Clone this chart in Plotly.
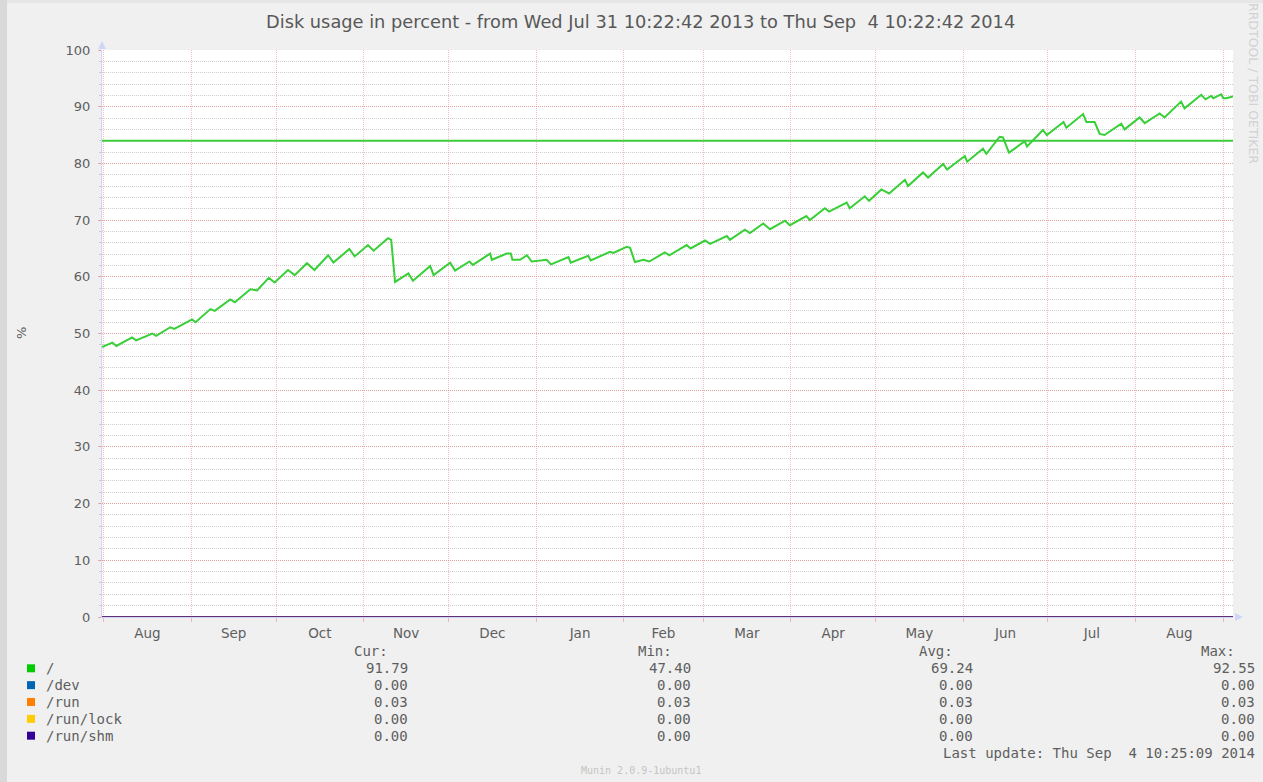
import plotly.graph_objects as go

# ---------------- data ----------------
root_dates = [
    "2013-07-31 10:22", "2013-08-04 02:00", "2013-08-05 12:00", "2013-08-11 02:00", "2013-08-12 12:00",
    "2013-08-18 05:00", "2013-08-19 14:00", "2013-08-24 14:00", "2013-08-26 00:00", "2013-09-01 07:00",
    "2013-09-02 12:00", "2013-09-07 19:00", "2013-09-09 07:00", "2013-09-14 19:00", "2013-09-16 10:00",
    "2013-09-21 22:00", "2013-09-24 07:00", "2013-09-28 10:00", "2013-09-30 12:00", "2013-10-05 05:00",
    "2013-10-07 14:00", "2013-10-11 22:00", "2013-10-14 14:00", "2013-10-19 10:00", "2013-10-21 07:00",
    "2013-10-26 22:00", "2013-10-28 19:00", "2013-11-02 12:00", "2013-11-04 12:00", "2013-11-09 14:00",
    "2013-11-10 17:00", "2013-11-11 07:00", "2013-11-12 02:00", "2013-11-16 19:00", "2013-11-18 10:00",
    "2013-11-24 12:00", "2013-11-25 17:00", "2013-12-01 14:00", "2013-12-03 07:00", "2013-12-08 10:00",
    "2013-12-09 14:00", "2013-12-15 17:00", "2013-12-16 07:00", "2013-12-21 14:00", "2013-12-23 00:00",
    "2013-12-23 14:00", "2013-12-26 07:00", "2013-12-28 17:00", "2013-12-30 10:00", "2014-01-04 17:00",
    "2014-01-06 05:00", "2014-01-12 10:00", "2014-01-13 05:00", "2014-01-19 10:00", "2014-01-20 07:00",
    "2014-01-27 02:00", "2014-01-28 07:00", "2014-02-02 00:00", "2014-02-03 05:00", "2014-02-04 22:00",
    "2014-02-07 22:00", "2014-02-10 00:00", "2014-02-15 12:00", "2014-02-17 02:00", "2014-02-23 05:00",
    "2014-02-24 14:00", "2014-03-01 17:00", "2014-03-03 12:00", "2014-03-09 10:00", "2014-03-10 12:00",
    "2014-03-15 19:00", "2014-03-17 14:00", "2014-03-22 07:00", "2014-03-24 17:00", "2014-03-30 00:00",
    "2014-03-31 17:00", "2014-04-06 14:00", "2014-04-07 19:00", "2014-04-13 02:00", "2014-04-14 14:00",
    "2014-04-20 19:00", "2014-04-21 22:00", "2014-04-27 05:00", "2014-04-28 17:00", "2014-05-03 02:00",
    "2014-05-05 19:00", "2014-05-11 10:00", "2014-05-12 12:00", "2014-05-17 19:00", "2014-05-19 14:00",
    "2014-05-24 22:00", "2014-05-26 07:00", "2014-06-01 14:00", "2014-06-02 10:00", "2014-06-08 00:00",
    "2014-06-09 05:00", "2014-06-13 22:00", "2014-06-15 02:00", "2014-06-17 05:00", "2014-06-22 19:00",
    "2014-06-23 14:00", "2014-06-29 05:00", "2014-06-30 14:00", "2014-07-06 12:00", "2014-07-07 12:00",
    "2014-07-13 10:00", "2014-07-14 14:00", "2014-07-17 12:00", "2014-07-19 07:00", "2014-07-21 00:00",
    "2014-07-26 22:00", "2014-07-28 02:00", "2014-08-02 10:00", "2014-08-04 05:00", "2014-08-09 12:00",
    "2014-08-11 05:00", "2014-08-17 02:00", "2014-08-18 07:00", "2014-08-24 05:00", "2014-08-25 17:00",
    "2014-08-27 17:00", "2014-08-28 12:00", "2014-08-31 07:00", "2014-09-01 00:00", "2014-09-02 00:00",
    "2014-09-04 10:22",
]
root_values = [
    47.6, 48.4, 47.8, 49.3, 48.8, 50.0, 49.6, 51.1, 50.8, 52.5,
    52.0, 54.3, 54.0, 56.0, 55.5, 57.8, 57.6, 59.8, 59.0, 61.2,
    60.3, 62.4, 61.2, 63.8, 62.5, 64.9, 63.6, 65.6, 64.6, 66.8,
    66.5, 62.7, 59.1, 60.6, 59.3, 61.9, 60.3, 62.5, 61.1, 62.7,
    62.1, 64.1, 63.0, 64.1, 64.1, 63.0, 63.0, 63.8, 62.7, 63.0,
    62.2, 63.5, 62.5, 63.7, 62.9, 64.4, 64.2, 65.3, 65.1, 62.6,
    63.0, 62.7, 64.3, 63.8, 65.6, 65.0, 66.4, 65.8, 67.2, 66.5,
    68.3, 67.7, 69.4, 68.4, 69.9, 69.1, 70.7, 70.0, 72.1, 71.5,
    73.1, 72.1, 74.2, 73.4, 75.4, 74.7, 77.1, 76.0, 78.4, 77.5,
    79.9, 78.9, 81.3, 80.3, 82.6, 81.7, 84.7, 84.6, 81.9, 83.9,
    83.0, 85.9, 85.0, 87.3, 86.3, 88.7, 87.3, 87.3, 85.2, 85.0,
    87.0, 86.0, 88.1, 87.1, 88.8, 88.1, 90.9, 89.7, 92.1, 91.3,
    91.9, 91.5, 92.2, 91.5, 91.5, 91.8,
]
range_start = "2013-07-31 10:22:42"
range_end = "2014-09-04 10:22:42"
flat_dates = [range_start, range_end]
dev_values = [0.0, 0.0]
run_values = [0.03, 0.03]
runlock_values = [0.0, 0.0]
runshm_values = [0.0, 0.0]
warning_level = 84

series_names = ["/", "/dev", "/run", "/run/lock", "/run/shm"]
series_colors = ["#00cc00", "#0066b3", "#ff8000", "#ffcc00", "#330099"]
cur_vals = [91.79, 0.00, 0.03, 0.00, 0.00]
min_vals = [47.40, 0.00, 0.03, 0.00, 0.00]
avg_vals = [69.24, 0.00, 0.03, 0.00, 0.00]
max_vals = [92.55, 0.00, 0.03, 0.00, 0.00]
col_headers = ["Cur:", "Min:", "Avg:", "Max:"]
y_ticks = [0, 10, 20, 30, 40, 50, 60, 70, 80, 90, 100]

title_text = "Disk usage in percent - from Wed Jul 31 10:22:42 2013 to Thu Sep\u00a0 4 10:22:42 2014"
last_update = "Last update: Thu Sep\u00a0 4 10:25:09 2014"
footer_text = "Munin 2.0.9-1ubuntu1"
watermark = "RRDTOOL / TOBI OETIKER"
y_label = "%"

# ---------------- layout helpers ----------------
W, H = 1263, 782
ML, MR, MT, MB = 102, 30, 50, 165
PW = W - ML - MR
PH = H - MT - MB


def px(x):
    return (x - ML) / PW


def py(y):
    return (H - MB - y) / PH


FONT = "DejaVu Sans, Verdana, sans-serif"
MONO = "DejaVu Sans Mono, monospace"
TXT = "#5e5e5e"
MAJOR_GRID = "rgba(240,110,110,0.45)"
MINOR_GRID = "#cdcdcd"
AXIS = "#CFD6F8"

fig = go.Figure()

fig.add_trace(go.Scatter(x=root_dates, y=root_values, mode="lines",
                         line=dict(color="#38cf38", width=2), hoverinfo="skip"))
other = [dev_values, run_values, runlock_values, runshm_values]
for vals, col in zip(other, series_colors[1:]):
    fig.add_trace(go.Scatter(x=flat_dates, y=vals, mode="lines",
                             line=dict(color=col, width=1.4), hoverinfo="skip"))
fig.add_trace(go.Scatter(x=flat_dates, y=[warning_level, warning_level], mode="lines",
                         line=dict(color="#3ccc3c", width=2), hoverinfo="skip"))

annotations = []
shapes = []

# outer frame strips
shapes.append(dict(type="rect", xref="paper", yref="paper", x0=px(0), x1=px(7), y0=py(H), y1=py(0),
                   fillcolor="#d9d9d9", line=dict(width=0), layer="below"))
shapes.append(dict(type="rect", xref="paper", yref="paper", x0=px(7), x1=px(W), y0=py(3), y1=py(0),
                   fillcolor="#e6e6e6", line=dict(width=0), layer="below"))

# axis arrows
shapes.append(dict(type="path", xref="paper", yref="paper",
                   path=f"M {px(98)},{py(49)} L {px(102)},{py(41)} L {px(106)},{py(49)} Z",
                   fillcolor=AXIS, line=dict(width=0)))
shapes.append(dict(type="path", xref="paper", yref="paper",
                   path=f"M {px(1235)},{py(613)} L {px(1243)},{py(617)} L {px(1235)},{py(621)} Z",
                   fillcolor=AXIS, line=dict(width=0)))

# title
annotations.append(dict(text=title_text, x=px(640.5), y=py(21), xref="paper", yref="paper",
                        xanchor="center", yanchor="middle", showarrow=False,
                        font=dict(family=FONT, size=17.8, color="#585858")))
# y label
annotations.append(dict(text=y_label, x=px(21), y=py(333), xref="paper", yref="paper",
                        xanchor="center", yanchor="middle", showarrow=False, textangle=-90,
                        font=dict(family=FONT, size=13, color=TXT)))
# watermark
annotations.append(dict(text=watermark, x=px(1254), y=py(83), xref="paper", yref="paper",
                        xanchor="center", yanchor="middle", showarrow=False, textangle=90,
                        font=dict(family=FONT, size=12.5, color="#d2d2d2")))

# legend table
row0 = 668.3
dy = 16.85
val_right = [410, 693, 975, 1256.5]
head_right = [390, 673.5, 955.5, 1237]
for j, h in enumerate(col_headers):
    annotations.append(dict(text=h, x=px(head_right[j]), y=py(650.7), xref="paper", yref="paper",
                            xanchor="right", yanchor="middle", showarrow=False,
                            font=dict(family=MONO, size=14, color=TXT)))
cols = [cur_vals, min_vals, avg_vals, max_vals]
for i, name in enumerate(series_names):
    yc = row0 + i * dy
    shapes.append(dict(type="rect", xref="paper", yref="paper", x0=px(27), x1=px(35),
                       y0=py(yc + 4), y1=py(yc - 4), fillcolor=series_colors[i], line=dict(width=0)))
    annotations.append(dict(text=name, x=px(44), y=py(yc), xref="paper", yref="paper",
                            xanchor="left", yanchor="middle", showarrow=False,
                            font=dict(family=MONO, size=14, color=TXT)))
    for j, c in enumerate(cols):
        annotations.append(dict(text=f"{c[i]:.2f}", x=px(val_right[j]), y=py(yc), xref="paper", yref="paper",
                                xanchor="right", yanchor="middle", showarrow=False,
                                font=dict(family=MONO, size=14, color=TXT)))
annotations.append(dict(text=last_update, x=px(1256.5), y=py(752.7), xref="paper", yref="paper",
                        xanchor="right", yanchor="middle", showarrow=False,
                        font=dict(family=MONO, size=14, color=TXT)))
annotations.append(dict(text=footer_text, x=px(641), y=py(770.5), xref="paper", yref="paper",
                        xanchor="center", yanchor="middle", showarrow=False,
                        font=dict(family=MONO, size=10, color="#c4c4c4")))

fig.update_layout(
    width=W, height=H,
    margin=dict(l=ML, r=MR, t=MT, b=MB, pad=0),
    paper_bgcolor="#f0f0f0",
    plot_bgcolor="#ffffff",
    showlegend=False,
    annotations=annotations,
    shapes=shapes,
    xaxis=dict(
        type="date", range=[range_start, range_end],
        tick0="2013-08-01", dtick="M1", ticklabelmode="period", tickformat="%b",
        showgrid=True, gridcolor=MAJOR_GRID, griddash="1px,1px", gridwidth=1,
        ticks="outside", ticklen=4, tickcolor=MAJOR_GRID,
        showline=True, linecolor=AXIS, linewidth=1, zeroline=False,
        tickfont=dict(family=FONT, size=13.5, color=TXT),
        fixedrange=True,
    ),
    yaxis=dict(
        range=[0, 100], tickvals=y_ticks,
        showgrid=True, gridcolor=MAJOR_GRID, griddash="1px,1px", gridwidth=1,
        ticks="outside", ticklen=3, tickcolor=MAJOR_GRID, ticklabelstandoff=5,
        minor=dict(dtick=2, showgrid=True, gridcolor=MINOR_GRID, griddash="1px,1px",
                   ticks="outside", ticklen=2, tickcolor=MINOR_GRID),
        showline=True, linecolor=AXIS, linewidth=1, zeroline=False,
        tickfont=dict(family=FONT, size=13, color=TXT),
        fixedrange=True,
    ),
)

fig.write_html(
    "out.html",
    config={"displayModeBar": False},
    post_script="document.body.style.margin='0';document.body.style.background='#f0f0f0';",
)
